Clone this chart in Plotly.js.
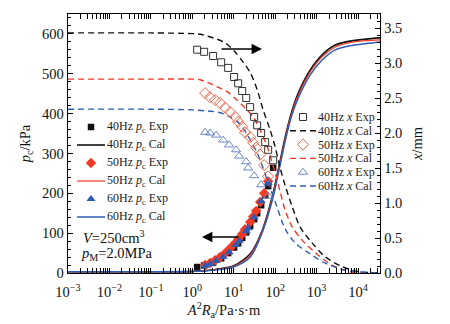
<!DOCTYPE html>
<html><head><meta charset="utf-8">
<script src="https://cdn.plot.ly/plotly-3.0.1.min.js"></script>
<style>html,body{margin:0;padding:0;background:#fff}#chart{width:450px;height:324px}</style>
</head><body><div id="chart"></div>
<script>
// ---------- experimental data ----------
const x40 = [1.31,1.93,3.18,4.97,7.33,10.2,12.8,16.0,20.0,24.9,31.1,36.7,45.9,57.3,67.8,89.5];
const pc40Exp = [15,19,26,37,50,64,75,88,102,118,135,150,170,195,218,264];
const xmm40Exp = [3.19,3.16,3.10,3.01,2.93,2.80,2.71,2.60,2.50,2.37,2.23,2.11,2.00,1.87,1.76,1.61];

const x50 = [2.04,2.69,3.56,4.69,6.19,8.18,10.8,12.8,16.0,18.8,24.9,29.4,34.8,43.4,54.2,67.8];
const pc50Exp = [20,25,32,40,50,62,75,85,98,110,128,142,156,178,200,230];
const xmm50Exp = [2.57,2.51,2.47,2.43,2.36,2.30,2.23,2.16,2.09,2.01,1.94,1.86,1.79,1.69,1.54,1.38];

const x60 = [2.04,2.69,3.76,5.55,7.74,11.4,13.5,20.0,22.3,31.1,45.9,67.8];
const pc60Exp = [18,22,30,40,52,70,80,105,112,140,180,226];
const xmm60Exp = [2.01,2.00,1.97,1.90,1.83,1.76,1.67,1.59,1.50,1.39,1.26,1.10];

// ---------- calculated curves ----------
const xPcCal = [0.001,0.1,1,3.16,10,25.1,50.1,89.1,126,178,251,363,708,1380,2820,6310,15800,33900];
const pc40Cal = [3,3,4,8,18,48,110,200,272,345,405,452,510,548,572,582,587,590];
const pc50Cal = [3,3,4,8,17,45,108,196,268,341,401,447,505,543,567,578,583,585];
const pc60Cal = [3,3,4,7,15,40,105,190,262,335,395,440,498,535,560,570,576,580];

const xX40Cal = [0.001,0.1,1,1.55,3.98,6.17,10.7,17.0,25.1,37.2,51.3,75.9,100,132,174,257,398,776,1620,4170,10000,33900];
const xmm40Cal = [3.43,3.43,3.42,3.41,3.34,3.29,3.16,3.01,2.86,2.61,2.33,2.04,1.80,1.50,1.25,0.95,0.66,0.43,0.23,0.09,0.02,0.0];
const xX50Cal = [0.001,0.1,1,1.55,3.98,6.92,12.0,29.5,43.7,64.6,100,132,174,257,447,933,2400,7240,33900];
const xmm50Cal = [2.77,2.77,2.77,2.76,2.66,2.59,2.47,2.23,2.04,1.80,1.43,1.16,0.90,0.66,0.47,0.29,0.11,0.01,0.0];
const xX60Cal = [0.001,0.1,1,4.68,8.13,14.1,25.1,37.2,49.0,67.6,100,117,174,302,631,1620,4900,33900];
const xmm60Cal = [2.34,2.34,2.33,2.29,2.23,2.13,1.90,1.71,1.53,1.29,1.02,0.90,0.63,0.43,0.29,0.14,0.04,0.0];

// ---------- ticks / labels ----------
const xTickVals = [0.001,0.01,0.1,1,10,100,1000,10000];
const xTickText = ['10<sup>−3</sup>','10<sup>−2</sup>','10<sup>−1</sup>','10<sup>0</sup>','10<sup>1</sup>','10<sup>2</sup>','10<sup>3</sup>','10<sup>4</sup>'];
const leftLegendLabels = ['40Hz <i>p</i><sub>c</sub> Exp','40Hz <i>p</i><sub>c</sub> Cal','50Hz <i>p</i><sub>c</sub> Exp','50Hz <i>p</i><sub>c</sub> Cal','60Hz <i>p</i><sub>c</sub> Exp','60Hz <i>p</i><sub>c</sub> Cal'];
const rightLegendLabels = ['40Hz <i>x</i> Exp','40Hz <i>x</i> Cal','50Hz <i>x</i> Exp','50Hz <i>x</i> Cal','60Hz <i>x</i> Exp','60Hz <i>x</i> Cal'];

// ---------- styles ----------
const BLACK='#111111', RED='#f03a24', BLUE='#2d5cb4';
const RED_OPEN='#f26449', BLUE_OPEN='#7088cc', BLACK_OPEN='#333333';
const DASH='6px,4px';

const sPc = [
  {x:x40,y:pc40Exp,m:{symbol:'square',size:6.5,color:BLACK}},
  {x:x50,y:pc50Exp,m:{symbol:'diamond',size:8,color:RED}},
  {x:x60,y:pc60Exp,m:{symbol:'triangle-up',size:8,color:BLUE}}
];
const sPcCal = [
  {y:pc40Cal,c:BLACK,w:1.6},{y:pc50Cal,c:RED,w:1.2},{y:pc60Cal,c:BLUE,w:1.5}
];
const sX = [
  {x:x40,y:xmm40Exp,m:{symbol:'square-open',size:7,color:BLACK_OPEN,line:{width:1}}},
  {x:x50,y:xmm50Exp,m:{symbol:'diamond-open',size:8.5,color:RED_OPEN,line:{width:1}}},
  {x:x60,y:xmm60Exp,m:{symbol:'triangle-up-open',size:8,color:BLUE_OPEN,line:{width:1}}}
];
const sXCal = [
  {x:xX40Cal,y:xmm40Cal,c:BLACK},{x:xX50Cal,y:xmm50Cal,c:RED},{x:xX60Cal,y:xmm60Cal,c:BLUE}
];

const traces = [];
sPcCal.forEach(s=>traces.push({x:xPcCal,y:s.y,mode:'lines',line:{color:s.c,width:s.w,shape:'spline',smoothing:0.8},xaxis:'x',yaxis:'y',hoverinfo:'skip'}));
sXCal.forEach(s=>traces.push({x:s.x,y:s.y,mode:'lines',line:{color:s.c,width:1.4,dash:DASH,shape:'spline',smoothing:0.8},xaxis:'x',yaxis:'y2',hoverinfo:'skip'}));
sX.forEach(s=>traces.push({x:s.x,y:s.y,mode:'markers',marker:s.m,xaxis:'x',yaxis:'y2'}));
sPc.forEach(s=>traces.push({x:s.x,y:s.y,mode:'markers',marker:s.m,xaxis:'x',yaxis:'y'}));

// ---------- manual legends (overlay unit axes) ----------
const L0=68, L1=380, T0=14, B0=273;
const fx = px => (px-L0)/(L1-L0);
const fy = py => (B0-py)/(B0-T0);
const annotations = [];
function legendRow(label, py, lx0, lx1, tx, kind, style, fsize){
  if(kind==='marker'){
    traces.push({x:[fx((lx0+lx1)/2)],y:[fy(py)],mode:'markers',marker:style,xaxis:'x2',yaxis:'y3'});
  } else {
    traces.push({x:[fx(lx0),fx(lx1)],y:[fy(py),fy(py)],mode:'lines',line:style,xaxis:'x2',yaxis:'y3'});
  }
  annotations.push({xref:'paper',yref:'paper',x:fx(tx),y:fy(py),xanchor:'left',yanchor:'middle',showarrow:false,text:label,font:{size:fsize,color:'#222'}});
}
const leftStyles = [
  ['marker',sPc[0].m],['line',{color:BLACK,width:1.6}],
  ['marker',sPc[1].m],['line',{color:RED,width:1.2}],
  ['marker',sPc[2].m],['line',{color:BLUE,width:1.5}]
];
leftLegendLabels.forEach((lab,i)=>legendRow(lab,127+18*i,77,105,105,leftStyles[i][0],leftStyles[i][1],12));
const rightStyles = [
  ['marker',sX[0].m],['line',{color:BLACK,width:1.4,dash:DASH}],
  ['marker',sX[1].m],['line',{color:RED,width:1.4,dash:DASH}],
  ['marker',sX[2].m],['line',{color:BLUE,width:1.4,dash:DASH}]
];
rightLegendLabels.forEach((lab,i)=>legendRow(lab,117+13.8*i,290,316,316,rightStyles[i][0],rightStyles[i][1],12));

annotations.push({xref:'paper',yref:'paper',x:fx(81),y:fy(237),xanchor:'left',yanchor:'middle',showarrow:false,text:'<i>V</i>=250cm<sup>3</sup>',font:{size:14.5,color:'#111'}});
annotations.push({xref:'paper',yref:'paper',x:fx(79),y:fy(254),xanchor:'left',yanchor:'middle',showarrow:false,text:'<i>p</i><sub>M</sub>=2.0MPa',font:{size:14.5,color:'#111'}});
// arrows
annotations.push({xref:'paper',yref:'paper',x:fx(262),y:fy(49),ax:-42,ay:0,text:'',showarrow:true,arrowhead:2,arrowsize:1.6,arrowwidth:1.3,arrowcolor:'#000'});
annotations.push({xref:'paper',yref:'paper',x:fx(202),y:fy(237),ax:38,ay:0,text:'',showarrow:true,arrowhead:2,arrowsize:1.6,arrowwidth:1.3,arrowcolor:'#000'});

const axBase = {showline:true,linecolor:'#000',linewidth:1.3,ticks:'inside',ticklen:5,tickwidth:1,tickcolor:'#000',showgrid:false,zeroline:false,tickfont:{size:14.5,color:'#111'}};
const layout = {
  width:450,height:324,
  margin:{l:68,r:70,t:14,b:51},
  paper_bgcolor:'#fff',plot_bgcolor:'#fff',
  showlegend:false,
  font:{family:'"Liberation Serif","Times New Roman",serif',size:14,color:'#111'},
  xaxis:Object.assign({},axBase,{type:'log',range:[-3,4.53],tickmode:'array',tickvals:xTickVals,ticktext:xTickText,mirror:'allticks',
    ticklabelstandoff:5,
    minor:{dtick:'D1',ticks:'inside',ticklen:3,tickcolor:'#000',showgrid:false},
    title:{text:'<i>A</i><sup>2</sup><i>R</i><sub>a</sub>/Pa·s·m',standoff:3,font:{size:14.5}}}),
  yaxis:Object.assign({},axBase,{range:[0,650],dtick:100,
    minor:{dtick:20,ticks:'inside',ticklen:3,tickcolor:'#000',showgrid:false},
    title:{text:'<i>p</i><sub>c</sub>/kPa',standoff:8,font:{size:14.5}}}),
  yaxis2:Object.assign({},axBase,{overlaying:'y',side:'right',anchor:'x',range:[0,3.7],dtick:0.5,tickformat:'.1f',
    minor:{dtick:0.1,ticks:'inside',ticklen:3,tickcolor:'#000',showgrid:false},
    title:{text:'<i>x</i>/mm',standoff:10,font:{size:14.5}}}),
  xaxis2:{overlaying:'x',anchor:'y3',range:[0,1],visible:false,fixedrange:true},
  yaxis3:{overlaying:'y',anchor:'x2',range:[0,1],visible:false,fixedrange:true},
  annotations:annotations
};
Plotly.newPlot('chart',traces,layout,{staticPlot:true,displayModeBar:false});
</script></body></html>
